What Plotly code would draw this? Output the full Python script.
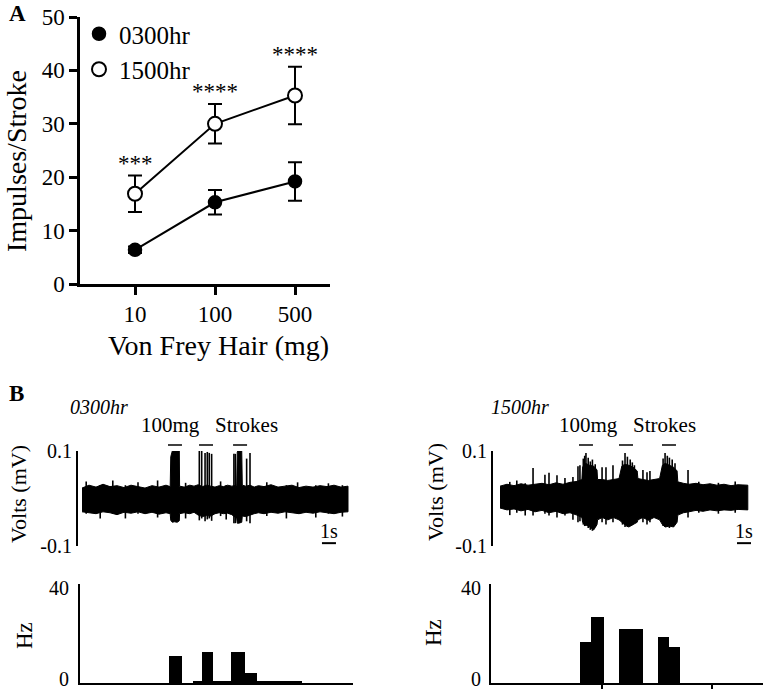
import numpy as np
import plotly.graph_objects as go

# ---------------- data ----------------
force_labels = ["10", "100", "500"]
am_mean = [6.4, 15.3, 19.2]
am_err = [0.6, 2.3, 3.6]
pm_mean = [16.9, 30.0, 35.3]
pm_err = [3.4, 3.7, 5.4]
stars = ["***", "****", "****"]

# 0300hr recording: time (s) and envelope of the signal (mV)
left_t = [0, 0.5, 1, 1.5, 2, 2.5, 3, 3.5, 4, 4.5, 5, 5.5, 6, 6.3, 6.34, 6.45, 6.6, 6.8, 6.95, 6.97,
          7.3, 7.7, 8.0, 8.3, 8.6, 8.9, 9.2, 9.5, 9.8, 10.1, 10.4, 10.7, 11.05, 11.09, 11.2, 11.41, 11.45,
          11.7, 12.0, 12.3, 12.6, 13.0, 13.5, 14.0, 14.5, 15.0, 15.5, 16.0, 16.5, 17.0, 17.5, 18.0, 18.5, 19.0]
left_up = [.022, .028, .024, .030, .025, .027, .023, .028, .025, .022, .027, .024, .028, .025, .088, .100, .106, .106, .100, .026,
           .024, .028, .026, .029, .025, .028, .026, .024, .027, .025, .028, .026, .028, .098, .104, .100, .028,
           .026, .028, .024, .027, .025, .029, .024, .026, .028, .023, .026, .024, .027, .025, .028, .024, .026]
left_lo = [-.028, -.030, -.032, -.028, -.030, -.034, -.029, -.031, -.028, -.032, -.029, -.033, -.030, -.032, -.046, -.050, -.049, -.050, -.047, -.032,
           -.030, -.032, -.029, -.035, -.038, -.036, -.037, -.032, -.030, -.032, -.031, -.034, -.042, -.052, -.052, -.050, -.037,
           -.038, -.035, -.032, -.030, -.032, -.029, -.031, -.028, -.030, -.032, -.029, -.031, -.028, -.030, -.032, -.029, -.028]
# single spikes: time, peak, trough
left_spk_t = [8.38, 8.55, 8.79, 8.95, 9.09, 9.26, 10.85, 10.95, 11.76, 12.0,
              0.3, 1.3, 2.2, 3.1, 4.0, 5.4, 7.4, 9.9, 10.3, 13.2, 14.6, 15.4, 16.7, 17.6, 18.6]
left_spk_hi = [.106, .102, .096, .098, .096, .094, .094, .094, .084, .096,
               .036, .028, .038, .028, .034, .038, .033, .036, .028, .034, .028, .034, .028, .032, .028]
left_spk_lo = [-.046, -.042, -.048, -.044, -.042, -.047, -.052, -.052, -.048, -.052,
               -.032, -.042, -.032, -.042, -.032, -.040, -.042, -.037, -.044, -.037, -.042, -.032, -.040, -.032, -.038]

# 1500hr recording
right_t = [0, 0.5, 1.0, 1.5, 2.0, 2.5, 3.0, 3.5, 4.0, 4.5, 5.0, 5.5, 5.85, 5.9, 6.1, 6.4, 6.7, 6.93, 6.97,
           7.3, 7.7, 8.1, 8.5, 8.7, 8.9, 9.2, 9.5, 9.8, 9.85, 10.2, 10.6, 11.0, 11.4, 11.6, 11.8, 12.1, 12.4,
           12.65, 12.7, 13.1, 13.5, 14.0, 14.5, 15.0, 15.5, 16.0, 16.5, 17.0, 17.7]
right_up = [.026, .030, .027, .031, .028, .030, .032, .029, .033, .030, .034, .036, .040, .066, .074, .070, .068, .060, .040,
            .040, .038, .040, .042, .068, .072, .070, .066, .058, .042, .040, .038, .040, .042, .070, .074, .070, .066,
            .058, .035, .032, .030, .032, .029, .031, .028, .030, .027, .029, .028]
right_lo = [-.020, -.024, -.022, -.026, -.023, -.028, -.025, -.030, -.027, -.032, -.030, -.035, -.040, -.050, -.055, -.060, -.066, -.055, -.045,
            -.040, -.045, -.040, -.045, -.050, -.055, -.060, -.055, -.050, -.045, -.040, -.046, -.040, -.045, -.055, -.060, -.058, -.060,
            -.050, -.035, -.030, -.028, -.025, -.027, -.024, -.026, -.024, -.025, -.023, -.024]
right_spk_t = [2.36, 3.21, 3.5, 4.07, 4.64, 5.21, 5.57, 5.71, 6.14, 7.29, 7.57, 8.07, 8.93, 10.21, 10.5, 10.71, 11.79, 13.43,
               0.7, 1.2, 1.8, 14.2, 15.6, 16.8,
               5.95, 6.05, 6.3, 6.45, 6.6, 6.8, 8.75, 9.1, 9.3, 9.45, 9.6, 11.65, 11.95, 12.1, 12.3, 12.5]
right_spk_hi = [.064, .050, .054, .049, .043, .045, .068, .070, .096, .066, .066, .070, .096, .060, .055, .058, .096, .060,
                .035, .038, .032, .035, .033, .036,
                .084, .090, .086, .078, .082, .072, .080, .088, .082, .076, .070, .084, .090, .086, .082, .074]
right_spk_lo = [-.036, -.032, -.036, -.040, -.036, -.045, -.050, -.048, -.058, -.050, -.055, -.050, -.060, -.050, -.055, -.050, -.060, -.040,
                -.035, -.030, -.036, -.030, -.032, -.030,
                -.055, -.058, -.062, -.066, -.068, -.060, -.055, -.060, -.058, -.056, -.052, -.058, -.060, -.062, -.058, -.055]

# stroke times (s), 1 s scale bars
left_strokes = [6.64, 8.86, 11.29]
right_strokes = [6.14, 9.0, 12.07]
left_scale_t = 17.64
right_scale_t = 17.43
scale_level = -0.094

# firing-rate histograms (bin edges in s, rate in Hz)
left_bin_start = [6.24, 7.90, 8.54, 9.37, 10.64, 11.64, 12.52]
left_bin_end = [7.12, 8.54, 9.37, 10.64, 11.64, 12.52, 15.70]
left_rate = [11.0, 0.6, 12.4, 0.6, 12.4, 3.9, 0.6]
right_bin_start = [5.71, 6.48, 8.50, 9.35, 11.26, 12.09]
right_bin_end = [6.48, 7.45, 9.35, 10.19, 12.09, 12.86]
right_rate = [16.7, 26.5, 21.7, 21.7, 18.7, 14.4]
hz_tick_labels = ["0", "40"]

# ---------------- figure ----------------
W, H = 767, 690
SERIF = "Liberation Serif, Times New Roman, serif"
PXS = 14.0  # pixels per second in the recordings


def px(x):
    return x / W


def py(y):
    return 1 - y / H


fig = go.Figure()
xpos = list(range(len(force_labels)))

fig.add_trace(go.Scatter(x=xpos, y=am_mean, mode="lines", line=dict(color="black", width=2),
                         showlegend=False, hoverinfo="skip", xaxis="x", yaxis="y"))
fig.add_trace(go.Scatter(x=xpos, y=pm_mean, mode="lines", line=dict(color="black", width=2),
                         showlegend=False, hoverinfo="skip", xaxis="x", yaxis="y"))
fig.add_trace(go.Scatter(x=xpos, y=am_mean, mode="markers", name="0300hr", legendgroup="a",
                         marker=dict(color="black", size=13, line=dict(color="black", width=1.5)),
                         error_y=dict(type="data", array=am_err, color="black", thickness=2, width=7),
                         xaxis="x", yaxis="y"))
fig.add_trace(go.Scatter(x=xpos, y=pm_mean, mode="markers", name="1500hr", legendgroup="b",
                         marker=dict(color="white", size=14, line=dict(color="black", width=2)),
                         error_y=dict(type="data", array=pm_err, color="black", thickness=2, width=7),
                         xaxis="x", yaxis="y"))


def add_recording(t, up, lo, st, shi, slo, xa, ya):
    fig.add_trace(go.Scatter(x=list(t) + list(t)[::-1], y=list(up) + list(lo)[::-1], fill="toself",
                             fillcolor="black", mode="lines", line=dict(color="black", width=1),
                             showlegend=False, hoverinfo="skip", xaxis=xa, yaxis=ya))
    xs, ys = [], []
    for a, b, c in zip(st, shi, slo):
        xs += [a, a, None]
        ys += [b, c, None]
    fig.add_trace(go.Scatter(x=xs, y=ys, mode="lines", line=dict(color="black", width=1.6),
                             showlegend=False, hoverinfo="skip", xaxis=xa, yaxis=ya))


add_recording(left_t, left_up, left_lo, left_spk_t, left_spk_hi, left_spk_lo, "x2", "y2")
add_recording(right_t, right_up, right_lo, right_spk_t, right_spk_hi, right_spk_lo, "x3", "y3")

for s, e, r, xa, ya in [(left_bin_start, left_bin_end, left_rate, "x4", "y4"),
                        (right_bin_start, right_bin_end, right_rate, "x5", "y5")]:
    s = np.array(s)
    e = np.array(e)
    fig.add_trace(go.Bar(x=(s + e) / 2, y=r, width=e - s, marker=dict(color="black", line=dict(width=0)),
                         showlegend=False, hoverinfo="skip", xaxis=xa, yaxis=ya))

shapes = []
for strokes, sc, xa, ya in [(left_strokes, left_scale_t, "x2", "y2"), (right_strokes, right_scale_t, "x3", "y3")]:
    for s in strokes:
        shapes.append(dict(type="line", xref=xa, yref="paper", x0=s - 0.5, x1=s + 0.5, y0=py(445), y1=py(445),
                           line=dict(color="black", width=1.5)))
    shapes.append(dict(type="line", xref=xa, yref=ya, x0=sc - 0.5, x1=sc + 0.5, y0=scale_level, y1=scale_level,
                       line=dict(color="black", width=2)))

axis_common = dict(showgrid=False, zeroline=False, linecolor="black", tickcolor="black", automargin=False,
                   ticklabeloverflow="allow", tickfont=dict(family=SERIF, color="black"))

layout = dict(
    width=W, height=H, margin=dict(l=0, r=0, t=0, b=0, pad=0, autoexpand=False), autosize=False,
    paper_bgcolor="white", plot_bgcolor="white", showlegend=True, bargap=0,
    legend=dict(x=px(79), y=py(11), xanchor="left", yanchor="top", bgcolor="rgba(0,0,0,0)",
                font=dict(family=SERIF, size=25, color="black"), traceorder="grouped", tracegroupgap=0),
    xaxis=dict(axis_common, domain=[px(80), px(330)], range=[-0.6875, 2.4375], tickvals=xpos,
               ticktext=force_labels, showline=True, linewidth=2.5, ticks="outside", ticklen=8, tickwidth=2.5,
               tickfont=dict(family=SERIF, size=23, color="black"), anchor="y"),
    yaxis=dict(axis_common, domain=[py(284), py(17)], range=[0, 50], tickvals=[0, 10, 20, 30, 40, 50],
               showline=True, linewidth=2.5, ticks="outside", ticklen=8, tickwidth=2.5,
               tickfont=dict(family=SERIF, size=23, color="black"), anchor="x"),
    xaxis2=dict(axis_common, domain=[px(78), px(350)], range=[(78 - 82) / PXS, (350 - 82) / PXS],
                visible=False, anchor="y2"),
    yaxis2=dict(axis_common, domain=[py(546), py(451)], range=[-0.1, 0.1], tickvals=[-0.1, 0.1],
                ticktext=["-0.1", "0.1"], showline=True, linewidth=2, ticks="",
                tickfont=dict(family=SERIF, size=20, color="black"), anchor="x2"),
    xaxis3=dict(axis_common, domain=[px(493), px(767)], range=[(493 - 500) / PXS, (767 - 500) / PXS],
                visible=False, anchor="y3"),
    yaxis3=dict(axis_common, domain=[py(546), py(451)], range=[-0.1, 0.1], tickvals=[-0.1, 0.1],
                ticktext=["-0.1", "0.1"], showline=True, linewidth=2, ticks="",
                tickfont=dict(family=SERIF, size=20, color="black"), anchor="x3"),
    xaxis4=dict(axis_common, domain=[px(80), px(353)], range=[(80 - 82) / PXS, (353 - 82) / PXS],
                showline=True, linewidth=2, ticks="", showticklabels=False, anchor="y4"),
    yaxis4=dict(axis_common, domain=[py(683), py(584)], range=[0, 40], showline=True,
                linewidth=2, ticks="", showticklabels=False, anchor="x4"),
    xaxis5=dict(axis_common, domain=[px(491), px(763)], range=[(491 - 500) / PXS, (763 - 500) / PXS],
                showline=True, linewidth=2, ticks="outside", ticklen=4, tickwidth=1.5,
                tickvals=[7.26, 15.16], showticklabels=False, anchor="y5"),
    yaxis5=dict(axis_common, domain=[py(683), py(584)], range=[0, 40], showline=True,
                linewidth=2, ticks="", showticklabels=False, anchor="x5"),
    shapes=shapes,
)
fig.update_layout(**layout)

ann = []


def txt(text, x, y, size, angle=0, xanchor="center", yanchor="middle", xref="paper", yref="paper", yshift=0):
    ann.append(dict(text=text, x=x, y=y, xref=xref, yref=yref, showarrow=False, textangle=angle,
                    xanchor=xanchor, yanchor=yanchor, yshift=yshift,
                    font=dict(family=SERIF, size=size, color="black")))


txt("<b>A</b>", px(7), py(14), 23, xanchor="left")
txt("Impulses/Stroke", px(16), py(161), 28, angle=-90)
txt("Von Frey Hair (mg)", px(218), py(345), 28)
for i, s in enumerate(stars):
    txt(s, xpos[i], pm_mean[i] + pm_err[i], 23, xref="x", yref="y", yanchor="bottom", yshift=-2)

txt("<b>B</b>", px(7), py(393), 23, xanchor="left")
txt("<i>0300hr</i>", px(68), py(407), 20, xanchor="left")
txt("<i>1500hr</i>", px(489), py(407), 20, xanchor="left")
txt("100mg\u00a0\u00a0 Strokes", 9.14, py(425), 21, xref="x2")
txt("100mg\u00a0\u00a0 Strokes", 9.14, py(425), 21, xref="x3")
txt("1s", left_scale_t, -0.068, 20, xref="x2", yref="y2")
txt("1s", right_scale_t, -0.068, 20, xref="x3", yref="y3")
txt("Volts (mV)", px(18), py(494), 22, angle=-90)
txt("Volts (mV)", px(435), py(492), 22, angle=-90)
txt("Hz", px(24), py(636), 23, angle=-90)
txt("Hz", px(433), py(632), 23, angle=-90)
# rate-axis labels placed just inside the figure edge
for xr in (71, 483):
    txt(hz_tick_labels[0], px(xr), py(679), 20, xanchor="right")
    txt(hz_tick_labels[1], px(xr), py(588), 20, xanchor="right")

fig.update_layout(annotations=ann)
fig.write_html("out.html", post_script="document.body.style.margin='0';",
               config={"displayModeBar": False})
